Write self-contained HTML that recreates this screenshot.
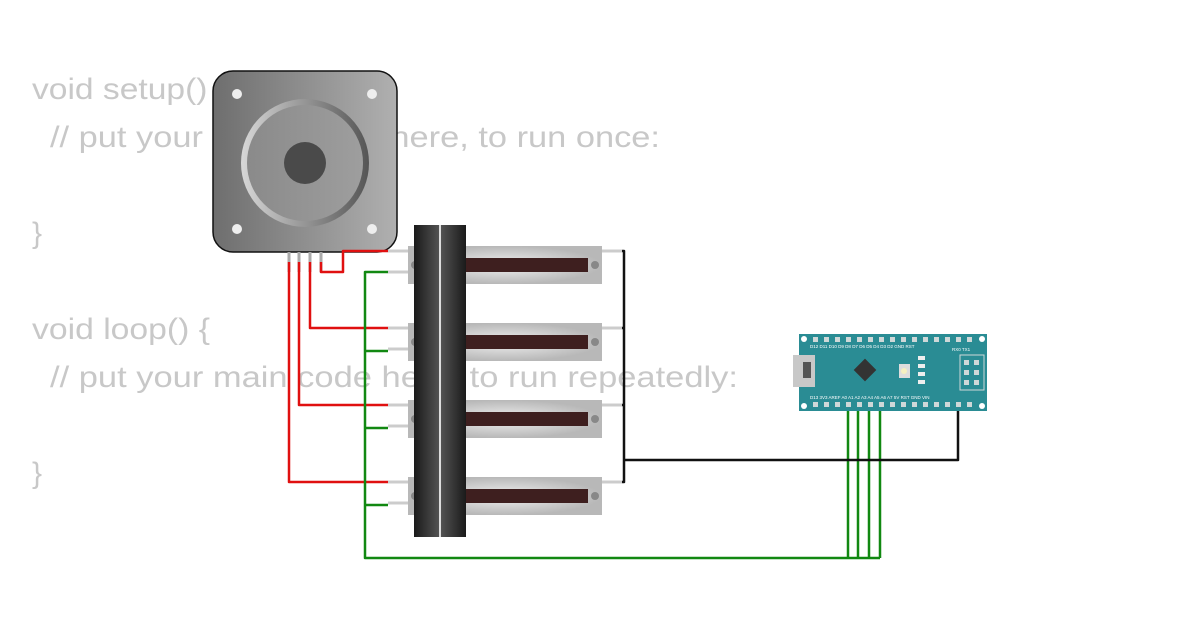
<!DOCTYPE html>
<html><head><style>html,body{margin:0;padding:0;background:#fff}svg{display:block}</style></head>
<body>
<svg width="1200" height="630" viewBox="0 0 1200 630" xmlns="http://www.w3.org/2000/svg">
<defs>
<linearGradient id="mg" x1="0" x2="1"><stop offset="0" stop-color="#6e6e6e"/><stop offset="1" stop-color="#b0b0b0"/></linearGradient>
<linearGradient id="ring" x1="0" x2="1"><stop offset="0" stop-color="#d8d8d8"/><stop offset="0.6" stop-color="#888"/><stop offset="1" stop-color="#555"/></linearGradient>
<linearGradient id="inner" x1="0" x2="1"><stop offset="0" stop-color="#8a8a8a"/><stop offset="1" stop-color="#9e9e9e"/></linearGradient>
<linearGradient id="knob" x1="0" x2="1"><stop offset="0" stop-color="#1a1a1a"/><stop offset="0.5" stop-color="#555"/><stop offset="1" stop-color="#1a1a1a"/></linearGradient>
<radialGradient id="body"><stop offset="0" stop-color="#f0f0f0"/><stop offset="1" stop-color="#b8b8b8"/></radialGradient>
</defs>
<g font-family="Liberation Sans, DejaVu Sans, sans-serif" font-size="30" fill="#c8c8c8">
<text x="32" y="99" textLength="196" lengthAdjust="spacingAndGlyphs">void setup() {</text>
<text x="50" y="147" textLength="610" lengthAdjust="spacingAndGlyphs">// put your setup code here, to run once:</text>
<text x="32" y="243">}</text>
<text x="32" y="339" textLength="178" lengthAdjust="spacingAndGlyphs">void loop() {</text>
<text x="50" y="387" textLength="688" lengthAdjust="spacingAndGlyphs">// put your main code here, to run repeatedly:</text>
<text x="32" y="483">}</text>
</g>
<!-- motor -->
<rect x="213" y="71" width="184" height="181" rx="20" fill="url(#mg)" stroke="#111" stroke-width="1.5"/>
<circle cx="237" cy="94" r="5" fill="#eee"/><circle cx="372" cy="94" r="5" fill="#eee"/>
<circle cx="237" cy="229" r="5" fill="#eee"/><circle cx="372" cy="229" r="5" fill="#eee"/>
<circle cx="305" cy="163" r="64" fill="url(#ring)"/>
<circle cx="305" cy="163" r="58" fill="url(#inner)"/>
<circle cx="305" cy="163" r="21" fill="#4a4a4a"/>
<g stroke="#aaa" stroke-width="3"><line x1="289" y1="252" x2="289" y2="272"/><line x1="299" y1="252" x2="299" y2="272"/><line x1="310" y1="252" x2="310" y2="272"/><line x1="321" y1="252" x2="321" y2="272"/></g>
<!-- sliders -->
<g>
<g id="s"><rect x="408" y="246" width="194" height="38" fill="url(#body)"/><rect x="463" y="258" width="125" height="14" fill="#3e1f1f"/><circle cx="595" cy="265" r="4" fill="#888"/><circle cx="415" cy="265" r="4" fill="#888"/>
<line x1="388" y1="251" x2="408" y2="251" stroke="#ccc" stroke-width="3"/><line x1="388" y1="272" x2="408" y2="272" stroke="#ccc" stroke-width="3"/><line x1="602" y1="251" x2="622" y2="251" stroke="#ccc" stroke-width="3"/></g>
<use href="#s" y="77"/><use href="#s" y="154"/><use href="#s" y="231"/>
</g>
<rect x="414" y="225" width="52" height="312" fill="url(#knob)"/>
<line x1="440" y1="225" x2="440" y2="537" stroke="#ddd" stroke-width="2"/>
<!-- wires -->
<g fill="none" stroke-width="2.5" stroke-linejoin="round">
<path d="M321 262V272H343V251H388" stroke="#e01010"/>
<path d="M310 262V328H388" stroke="#e01010"/>
<path d="M299 262V405H388" stroke="#e01010"/>
<path d="M289 262V482H388" stroke="#e01010"/>
<path d="M388 272H365V558H880" stroke="#118811"/>
<path d="M365 351H388M365 428H388M365 505H388" stroke="#118811"/>
<path d="M848 405V558M858 405V558M869 405V558M880 405V558" stroke="#118811"/>
<path d="M622 251H624V482H622M624 328H622M624 405H622M624 460H958V405" stroke="#111"/>
</g>
<!-- arduino -->
<rect x="799" y="334" width="188" height="77" fill="#2a8c94"/>
<g fill="#fff"><circle cx="804" cy="339" r="3"/><circle cx="982" cy="339" r="3"/><circle cx="804" cy="406" r="3"/><circle cx="982" cy="406" r="3"/></g>
<g fill="#cfd8d8">
<rect x="813" y="337" width="5" height="5"/><rect x="824" y="337" width="5" height="5"/><rect x="835" y="337" width="5" height="5"/><rect x="846" y="337" width="5" height="5"/><rect x="857" y="337" width="5" height="5"/><rect x="868" y="337" width="5" height="5"/><rect x="879" y="337" width="5" height="5"/><rect x="890" y="337" width="5" height="5"/><rect x="901" y="337" width="5" height="5"/><rect x="912" y="337" width="5" height="5"/><rect x="923" y="337" width="5" height="5"/><rect x="934" y="337" width="5" height="5"/><rect x="945" y="337" width="5" height="5"/><rect x="956" y="337" width="5" height="5"/><rect x="967" y="337" width="5" height="5"/>
<rect x="813" y="402" width="5" height="5"/><rect x="824" y="402" width="5" height="5"/><rect x="835" y="402" width="5" height="5"/><rect x="846" y="402" width="5" height="5"/><rect x="857" y="402" width="5" height="5"/><rect x="868" y="402" width="5" height="5"/><rect x="879" y="402" width="5" height="5"/><rect x="890" y="402" width="5" height="5"/><rect x="901" y="402" width="5" height="5"/><rect x="912" y="402" width="5" height="5"/><rect x="923" y="402" width="5" height="5"/><rect x="934" y="402" width="5" height="5"/><rect x="945" y="402" width="5" height="5"/><rect x="956" y="402" width="5" height="5"/><rect x="967" y="402" width="5" height="5"/>
<rect x="964" y="360" width="5" height="5"/><rect x="974" y="360" width="5" height="5"/><rect x="964" y="370" width="5" height="5"/><rect x="974" y="370" width="5" height="5"/><rect x="964" y="380" width="5" height="5"/><rect x="974" y="380" width="5" height="5"/>
</g>
<rect x="960" y="355" width="24" height="35" fill="none" stroke="#cfd8d8" stroke-width="1"/>
<rect x="793" y="355" width="22" height="32" fill="#c8c8c8"/><rect x="803" y="362" width="8" height="16" fill="#555"/>
<rect x="857" y="362" width="16" height="16" fill="#333" transform="rotate(45 865 370)"/>
<rect x="899" y="364" width="11" height="14" fill="#ddd"/><circle cx="904" cy="371" r="3" fill="#f5f0c0"/>
<rect x="918" y="356" width="7" height="4" fill="#eee"/><rect x="918" y="364" width="7" height="4" fill="#eee"/><rect x="918" y="372" width="7" height="4" fill="#eee"/><rect x="918" y="380" width="7" height="4" fill="#eee"/>
<g font-family="Liberation Sans, sans-serif" font-size="4.5" fill="#fff">
<text x="810" y="348">D12 D11 D10 D9  D8  D7  D6  D5  D4  D3  D2 GND RST</text>
<text x="810" y="399">D13 3V3 AREF A0  A1  A2  A3  A4  A5  A6  A7  5V RST GND VIN</text>
<text x="952" y="351">RX0 TX1</text>
</g>
</svg>
</body></html>
